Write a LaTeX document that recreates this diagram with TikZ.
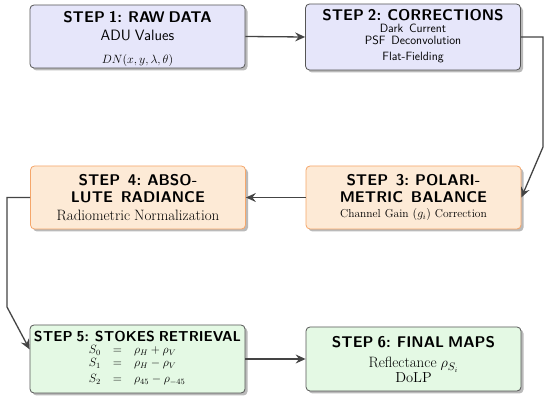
\documentclass[tikz,border=0pt]{standalone}
\usetikzlibrary{arrows.meta,shadows,calc}
\definecolor{lav}{HTML}{E6E6FA}
\definecolor{peach}{HTML}{FDEAD6}
\definecolor{mint}{HTML}{E4F9E4}
\definecolor{edgegray}{HTML}{555555}
\definecolor{edgeorange}{HTML}{F5A66A}
\definecolor{linkgray}{HTML}{444444}
\newcommand{\steptitle}{\fontsize{15.5}{0}\selectfont\sffamily\bfseries}
\newcommand{\stepsans}[1]{\fontsize{#1}{0}\selectfont\sffamily}
\newcommand{\steprm}[1]{\fontsize{#1}{0}\selectfont\rmfamily}
\newcommand{\topstrut}[1]{\rule{0pt}{#1pt}}
\newcommand{\botstrut}[1]{\rule[-#1pt]{0pt}{#1pt}}
\newcommand{\steplines}{\fontsize{12}{0}\selectfont\lineskiplimit=-100pt\relax}
\newcommand{\eqrow}[2]{{\fontsize{12}{0}\selectfont\makebox[13pt][r]{$#1$}\hspace{12pt}$=$\hspace{12pt}\makebox[53pt][l]{$#2$}}}
\tikzset{
  x=1pt, y=-1pt,
  stepbox/.style={draw=edgegray, rounded corners=4pt, line width=0.8pt,
    minimum width=215pt, text width=215pt,
    align=center, inner sep=0pt,
    font=\steplines,
    drop shadow={shadow xshift=2.5pt, shadow yshift=-2.5pt, fill=black!45, opacity=0.6}},
  bluebox/.style={stepbox, fill=lav},
  orangebox/.style={stepbox, fill=peach, draw=edgeorange},
  greenbox/.style={stepbox, fill=mint},
  link/.style={draw=linkgray, line width=1.3pt,
    -{Stealth[length=10pt, width=9pt, inset=3.5pt]}}
}
\begin{document}
\begin{tikzpicture}
\useasboundingbox (0,0) rectangle (550,401);

\node[bluebox] (s1) at (137.5,36.5) {%
  \topstrut{18}{\steptitle STEP 1: RAW DATA}\\[18pt]
  {\stepsans{15}ADU Values}\\[23pt]
  {\fontsize{12}{0}\selectfont $DN(x,y,\lambda,\theta)$}\botstrut{4}};

\node[bluebox] (s2) at (413,37) {%
  \topstrut{17}{\steptitle STEP 2: CORRECTIONS}\\[12pt]
  {\stepsans{12}Dark\enspace Current}\\[12pt]
  {\stepsans{12}PSF\enspace Deconvolution}\\[16pt]
  {\stepsans{12}Flat-Fielding}\botstrut{9}};

\node[orangebox] (s3) at (413.5,197.5) {%
  \topstrut{20}{\steptitle STEP\enspace 3: POLARI-}\\[17pt]
  {\steptitle METRIC\enspace BALANCE}\\[15pt]
  {\steprm{11.5}Channel Gain $(g_i)$ Correction}\botstrut{11}};

\node[orangebox] (s4) at (138,197.5) {%
  \topstrut{20}{\steptitle STEP\enspace 4: ABSO-}\\[17pt]
  {\steptitle LUTE\enspace RADIANCE}\\[18pt]
  {\steprm{15}Radiometric Normalization}\botstrut{8}};

\node[greenbox] (s5) at (137.5,359) {%
  \topstrut{17}\makebox[215pt]{\steptitle\fontsize{14.4}{0}\selectfont STEP 5: STOKES RETRIEVAL}\\[11.5pt]
  \eqrow{S_0}{\rho_H + \rho_V}\\[13pt]
  \eqrow{S_1}{\rho_H - \rho_V}\\[16.5pt]
  \eqrow{S_2}{\rho_{45} - \rho_{-45}}\botstrut{10}};

\node[greenbox] (s6) at (413.5,359) {%
  \topstrut{21}{\steptitle STEP 6: FINAL MAPS}\\[20pt]
  {\steprm{15}Reflectance $\rho_{S_i}$}\\[15pt]
  {\steprm{14.5}DoLP}\botstrut{8}};

\coordinate (k1) at (543,147);
\coordinate (k2) at (7,307);
\coordinate (t5) at ($(s5.north west)!0.36!(s5.south west)$);

\draw[link] (s1.east) -- (s2.west);
\draw[link] (s2.east) -| (k1) -- (s3.east);
\draw[link] (s3.west) -- (s4.east);
\draw[link] (s4.west) -| (k2) -- (t5);
\draw[link] (s5.east) -- (s6.west);
\end{tikzpicture}
\end{document}
